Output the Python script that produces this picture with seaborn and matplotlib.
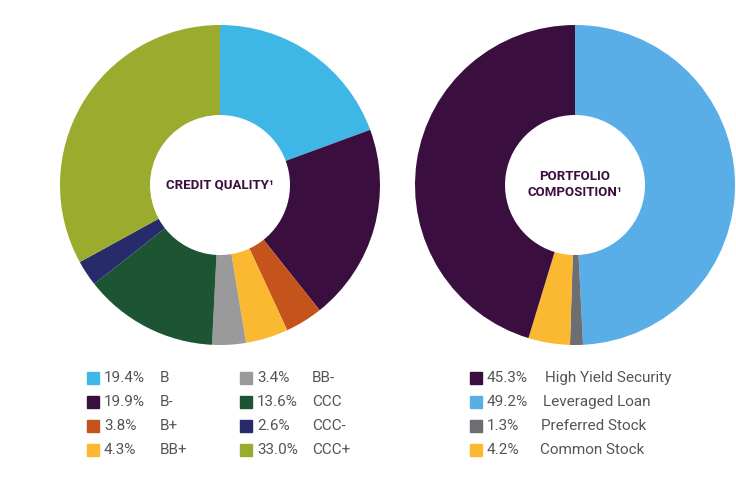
import seaborn as sns
import matplotlib.pyplot as plt
from matplotlib.patches import Rectangle

# credit quality (clockwise from top)
cq_labels = ["B", "B-", "B+", "BB+", "BB-", "CCC", "CCC-", "CCC+"]
cq_values = [19.4, 19.9, 3.8, 4.3, 3.4, 13.6, 2.6, 33.0]
cq_colors = ["#3fb7e6", "#3a0f3f", "#c4541b", "#fbb931", "#9a9a9a", "#1d5534", "#272a6b", "#9aab2e"]

# portfolio composition (clockwise from top)
pc_labels = ["Leveraged Loan", "Preferred Stock", "Common Stock", "High Yield Security"]
pc_values = [49.2, 1.3, 4.2, 45.3]
pc_colors = ["#5aaee8", "#6d6e71", "#fbb931", "#3a0f3f"]

sns.set_theme(style="white")
plt.rcParams['font.family'] = ['Roboto', 'DejaVu Sans']

W, H = 736, 504
fig = plt.figure(figsize=(W / 100, H / 100), dpi=100)

def donut(cx, cy, r, vals, cols, title):
    ax = fig.add_axes([(cx - r) / W, (H - cy - r) / H, 2 * r / W, 2 * r / H])
    ax.pie(vals, colors=cols, startangle=90, counterclock=False,
           wedgeprops=dict(width=1 - 70 / r, edgecolor="none"))
    ax.set_xlim(-1, 1)
    ax.set_ylim(-1, 1)
    ax.set_aspect("equal")
    ax.axis("off")
    ax.text(0, 0, title, ha="center", va="center", fontsize=9.5,
            fontweight="bold", color="#3a0f3f", linespacing=1.3)

donut(220, 185, 160, cq_values, cq_colors, "CREDIT QUALITY\u00b9")
donut(575, 185, 160, pc_values, pc_colors, "PORTFOLIO\nCOMPOSITION\u00b9")

txt = "#555555"
def entry(xs, y, col, pct, lab, xp, xl):
    fig.patches.append(Rectangle((xs / W, (H - y - 6) / H), 12 / W, 12 / H,
                                 color=col, transform=fig.transFigure))
    fig.text(xp / W, (H - y) / H, pct, va="center", fontsize=11, color=txt)
    fig.text(xl / W, (H - y) / H, lab, va="center", fontsize=11, color=txt)

rows = [378, 402, 426, 450]
for i, k in enumerate([0, 1, 2, 3]):
    entry(87, rows[i], cq_colors[k], f"{cq_values[k]:.1f}%", cq_labels[k], 104, 160)
for i, k in enumerate([4, 5, 6, 7]):
    entry(240, rows[i], cq_colors[k], f"{cq_values[k]:.1f}%", cq_labels[k], 257, 312)
right_order = [3, 0, 1, 2]
right_x = [545, 543, 541, 540]
for i, k in enumerate(right_order):
    entry(470, rows[i], pc_colors[k], f"{pc_values[k]:.1f}%", pc_labels[k], 487, right_x[i])

fig.savefig("out.png", dpi=100)
